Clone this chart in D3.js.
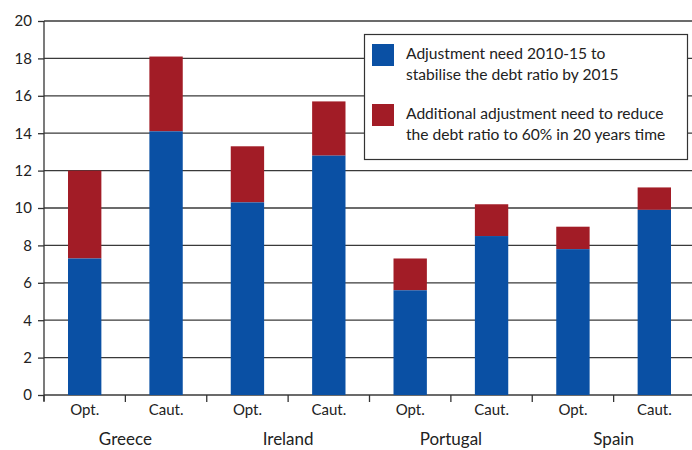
<!DOCTYPE html>
<html><head><meta charset="utf-8">
<script src="https://cdn.jsdelivr.net/npm/d3@7"></script>
<style>body{margin:0;background:#fff}svg{display:block}text{font-family:Lato,"Open Sans",sans-serif;fill:#222}</style>
</head><body><svg id="c" width="692" height="450"></svg>
<script>
const countries = ["Greece","Ireland","Portugal","Spain"];
const scenarios = ["Opt.","Caut."];
const baseNeed = [7.3, 14.1, 10.3, 12.8, 5.6, 8.5, 7.8, 9.9];
const additionalNeed = [4.7, 4.0, 3.0, 2.9, 1.7, 1.7, 1.2, 1.2];
const yTicks = [0,2,4,6,8,10,12,14,16,18,20];
const legendLabels = [["Adjustment need 2010-15 to","stabilise the debt ratio by 2015"],["Additional adjustment need to reduce","the debt ratio to 60% in 20 years time"]];
const colors = ["#0a50a4","#a21c26"];

(function(){
const svg = d3.select("#c");
const pl = 44, pr = 695, pt = 21, pb = 395;
const keys = [];
countries.forEach(c => scenarios.forEach(s => keys.push(c + "|" + s)));
const x = d3.scaleBand().domain(keys).range([pl, pr]).padding(0);
const y = d3.scaleLinear().domain([0, 20]).range([pb, pt]);

// gridlines
svg.append("g").selectAll("line").data(yTicks).join("line")
  .attr("x1", pl).attr("x2", 692)
  .attr("y1", d => y(d)).attr("y2", d => y(d))
  .attr("stroke", "#3a3a3a").attr("stroke-width", 1.3);

// bars
const data = keys.map((k, i) => ({k, base: baseNeed[i], add: additionalNeed[i]}));
const bw = x.bandwidth() * 0.41;
const g = svg.append("g");
g.selectAll("rect.r").data(data).join("rect").attr("class","r")
  .attr("x", d => x(d.k) + (x.bandwidth() - bw) / 2).attr("width", bw)
  .attr("y", d => y(d.base + d.add)).attr("height", d => y(d.base) - y(d.base + d.add))
  .attr("fill", colors[1]);
g.selectAll("rect.b").data(data).join("rect").attr("class","b")
  .attr("x", d => x(d.k) + (x.bandwidth() - bw) / 2).attr("width", bw)
  .attr("y", d => y(d.base)).attr("height", d => y(0) - y(d.base))
  .attr("fill", colors[0]);

// y axis
const ya = svg.append("g").attr("transform", `translate(${pl},0)`)
  .call(d3.axisLeft(y).tickValues(yTicks).tickSize(6).tickPadding(6));
ya.select(".domain").remove();
ya.selectAll("line").attr("stroke", "#333").attr("stroke-width", 1.3);
ya.selectAll("text").style("font-size", "15px").attr("fill", "#222");
svg.append("line").attr("x1", pl).attr("x2", pl).attr("y1", pt).attr("y2", pb + 6)
  .attr("stroke", "#333").attr("stroke-width", 1.3);

// x axis
const xa = svg.append("g").attr("transform", `translate(0,${pb})`)
  .call(d3.axisBottom(x).tickSize(0).tickPadding(9).tickFormat(d => d.split("|")[1]));
xa.select(".domain").remove();
xa.selectAll("text").style("font-size", "15px").attr("fill", "#222");
svg.append("g").selectAll("line").data(keys).join("line")
  .attr("x1", d => x(d)).attr("x2", d => x(d))
  .attr("y1", pb).attr("y2", pb + 7)
  .attr("stroke", "#333").attr("stroke-width", 1.3);

// country labels
svg.append("g").selectAll("text").data(countries).join("text")
  .attr("x", c => x(c + "|Opt.") + x.bandwidth())
  .attr("y", 445).attr("text-anchor", "middle")
  .style("font-size", "17px").text(c => c);

// legend
const lg = svg.append("g");
lg.append("rect").attr("x", 364.5).attr("y", 34.5).attr("width", 323).attr("height", 125)
  .attr("fill", "#fff").attr("stroke", "#333").attr("stroke-width", 1.2);
legendLabels.forEach((lines, i) => {
  const oy = 44 + i * 60;
  lg.append("rect").attr("x", 372).attr("y", oy).attr("width", 22).attr("height", 22).attr("fill", colors[i]);
  lines.forEach((t, j) => lg.append("text").attr("x", 406).attr("y", oy + 15 + j * 21)
    .style("font-size", "15.6px").text(t));
});
})();
</script></body></html>
